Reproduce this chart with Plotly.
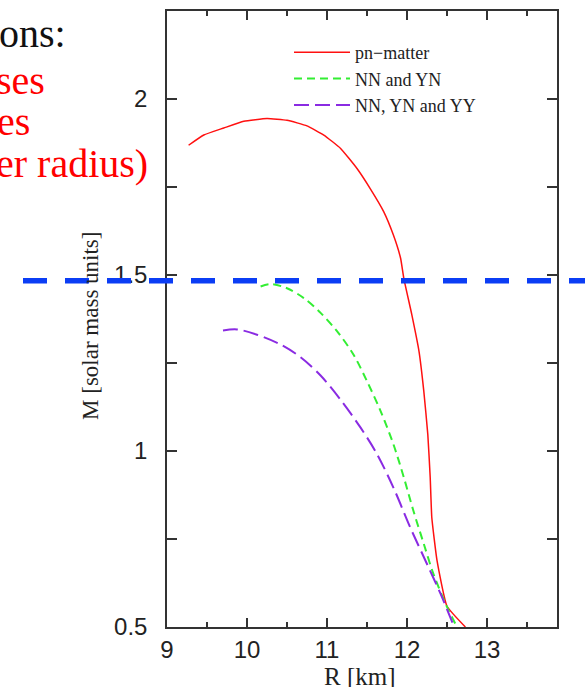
import plotly.graph_objects as go

# ---- data ----
r_pn = [9.27, 9.46, 9.71, 9.96, 10.25, 10.5, 10.75, 10.96, 11.17, 11.375, 11.54, 11.71,
        11.83, 11.92, 11.96, 12.06, 12.15, 12.21, 12.26, 12.29, 12.31, 12.375, 12.5, 12.73]
m_pn = [1.868, 1.897, 1.917, 1.936, 1.944, 1.939, 1.923, 1.897, 1.859, 1.802, 1.745, 1.679,
        1.613, 1.547, 1.49, 1.387, 1.283, 1.17, 1.047, 0.925, 0.811, 0.689, 0.559, 0.5]

r_yn = [10.17, 10.29, 10.5, 10.71, 10.92, 11.125, 11.33, 11.5, 11.67, 11.83, 11.96,
        12.08, 12.21, 12.33, 12.5, 12.625]
m_yn = [1.467, 1.474, 1.462, 1.434, 1.392, 1.34, 1.274, 1.198, 1.113, 1.019, 0.925,
        0.83, 0.736, 0.651, 0.557, 0.5]

r_yy = [9.7, 9.875, 10.125, 10.42, 10.67, 10.92, 11.17, 11.42, 11.625, 11.83, 12.04,
        12.25, 12.42, 12.59]
m_yy = [1.342, 1.345, 1.33, 1.302, 1.266, 1.214, 1.145, 1.066, 0.991, 0.896, 0.783,
        0.679, 0.594, 0.5]

series_names = ["pn\u2212matter", "NN and YN", "NN, YN and YY"]
x_ticks = [9, 10, 11, 12, 13]
y_ticks = [0.5, 1, 1.5, 2]
y_tick_labels = ["0.5", "1", "1.5", "2"]
limit_mass = 1.483

slide_lines = ["ons:", "ses", "es", "er radius)"]
slide_colors = ["#111111", "#FF0000", "#FF0000", "#FF0000"]

# ---- layout geometry (pixels) ----
W, H = 585, 687
ML, MR, MT, MB = 167, 28, 9, 60
PL, PR, PT, PB = ML, W - MR, MT, H - MB


def px2x(px):
    return (px - PL) / (PR - PL)


def py2y(py):
    return (PB - py) / (PB - PT)


fig = go.Figure()
fig.add_trace(go.Scatter(x=r_pn, y=m_pn, mode="lines", name=series_names[0],
                         line=dict(color="#FF1010", width=1.5, shape="spline", smoothing=0.4)))
fig.add_trace(go.Scatter(x=r_yn, y=m_yn, mode="lines", name=series_names[1],
                         line=dict(color="#33EE33", width=2, dash="8px,5px",
                                   shape="spline", smoothing=0.9)))
fig.add_trace(go.Scatter(x=r_yy, y=m_yy, mode="lines", name=series_names[2],
                         line=dict(color="#8A2BE2", width=2, dash="15px,6px",
                                   shape="spline", smoothing=0.9)))

axis_common = dict(showline=True, linecolor="#333333", linewidth=1.5, mirror="ticks",
                   ticks="inside", tickcolor="#333333", showgrid=False, zeroline=False,
                   tickfont=dict(family="Liberation Sans", size=24, color="#222222"))

fig.update_xaxes(range=[9, 9 + (PR - PL) / 80.0], tickvals=x_ticks, ticklen=9, tickwidth=1.5,
                 minor=dict(dtick=0.5, tick0=9, ticks="inside", ticklen=5, tickwidth=1.5,
                            tickcolor="#333333", showgrid=False),
                 ticklabelstandoff=0, **axis_common)
fig.update_yaxes(range=[0.5, 0.5 + (PB - PT) / 353.3], tickvals=y_ticks, ticktext=y_tick_labels,
                 ticklen=10, tickwidth=1.5,
                 minor=dict(dtick=0.25, tick0=0.5, ticks="inside", ticklen=10, tickwidth=1.5,
                            tickcolor="#333333", showgrid=False),
                 ticklabelstandoff=13, **axis_common)

annotations = []
slide_right = [68, 47, 32, 150]
slide_mid = [31.5, 78.5, 119.5, 161.5]
for txt, col, xr, ym in zip(slide_lines, slide_colors, slide_right, slide_mid):
    annotations.append(dict(text=txt, xref="paper", yref="paper", x=px2x(xr), y=py2y(ym),
                            xanchor="right", yanchor="middle", showarrow=False,
                            font=dict(family="Liberation Serif", size=40, color=col)))
annotations.append(dict(text="M [solar mass units]", xref="paper", yref="paper",
                        x=px2x(91), y=py2y(325), textangle=-90, xanchor="center",
                        yanchor="middle", showarrow=False,
                        font=dict(family="Liberation Serif", size=23, color="#222222")))
annotations.append(dict(text="R [km]", xref="paper", yref="paper",
                        x=px2x(360), y=py2y(677), xanchor="center", yanchor="middle",
                        showarrow=False,
                        font=dict(family="Liberation Serif", size=25, color="#222222")))

fig.update_layout(
    width=W, height=H,
    margin=dict(l=ML, r=MR, t=MT, b=MB, pad=0),
    paper_bgcolor="white", plot_bgcolor="white",
    showlegend=True,
    legend=dict(x=px2x(289), y=py2y(32), xanchor="left", yanchor="top",
                bgcolor="rgba(0,0,0,0)", borderwidth=0, itemwidth=56,
                font=dict(family="Liberation Serif", size=18, color="#222222"),
                tracegroupgap=0),
    annotations=annotations,
    shapes=[dict(type="line", xref="paper", yref="y", x0=px2x(23), x1=px2x(600),
                 y0=limit_mass, y1=limit_mass, layer="above",
                 line=dict(color="#0B3DF5", width=5.5, dash="24px,18px"))],
)

fig.write_html("out.html")
